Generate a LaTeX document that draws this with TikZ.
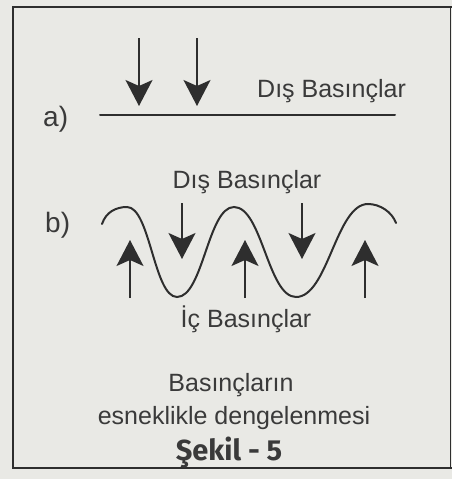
\documentclass[tikz,border=0pt]{standalone}
\usepackage{fontspec}
\setmainfont{Liberation Sans}
\newfontfamily\captionfont{Fira Sans}
\usetikzlibrary{arrows.meta}
\definecolor{paper}{HTML}{E9E9E5}
\definecolor{ink}{HTML}{2E2E2E}
\definecolor{txt}{HTML}{3A3A3A}
\tikzset{
  lbl/.style={text=txt, font=\fontsize{25}{29}\selectfont, inner sep=0pt, anchor=base},
  partlbl/.style={lbl, font=\fontsize{28}{32}\selectfont, anchor=base west},
  force/.style={draw=ink, line width=1.5pt, -{Stealth[length=26pt, width=27pt, inset=6pt]}},
  framestyle/.style={draw=ink, line width=2.2pt},
  surface/.style={draw=ink, line width=2pt, line cap=round}
}
\begin{document}
\begin{tikzpicture}[x=1pt,y=-1pt]
\fill[paper] (0,0) rectangle (452,479);
\useasboundingbox (0,0) rectangle (452,479);
% frame
\coordinate (ftl) at (13,7);
\coordinate (ftr) at (452,7);
\coordinate (fbl) at (13,468);
\coordinate (fbr) at (452,468);
\coordinate (rtop) at (450,7);
\coordinate (rbot) at (450,468);
\draw[framestyle] (ftr) -- (ftl) -- (fbl) -- (fbr);
\draw[draw=ink, line width=0.8pt] (rtop) -- (rbot);
% part a
\node[partlbl] (la) at (43,126) {a)};
\coordinate (sa1) at (100,115);
\coordinate (sa2) at (395,115);
\draw[surface] (sa1) -- (sa2);
\coordinate (a1s) at (139,38); \coordinate (a1e) at (139,106);
\coordinate (a2s) at (197,38); \coordinate (a2e) at (197,106);
\draw[force] (a1s) -- (a1e);
\draw[force] (a2s) -- (a2e);
\node[lbl, anchor=base west] (dba) at (257,97) {Dış Basınçlar};
% part b
\node[partlbl] (lb) at (45,232) {b)};
\node[lbl] (dbb) at (247,188) {Dış Basınçlar};
\coordinate (w0) at (102,224);
\coordinate (c1) at (127,207);
\coordinate (t1) at (177,297);
\coordinate (c2) at (234,207);
\coordinate (t2) at (296,297);
\coordinate (c3) at (368,204);
\coordinate (w1) at (396,223);
\draw[surface] (w0) .. controls (106,212) and (116,207) .. (c1)
  .. controls (150,207) and (154,297) .. (t1)
  .. controls (203,297) and (208,207) .. (c2)
  .. controls (262,207) and (268,297) .. (t2)
  .. controls (328,297) and (336,204) .. (c3)
  .. controls (380,204) and (392,212) .. (w1);
\coordinate (u1s) at (130,298); \coordinate (u1e) at (130,240);
\coordinate (u2s) at (245,298); \coordinate (u2e) at (245,240);
\coordinate (u3s) at (365,298); \coordinate (u3e) at (365,240);
\draw[force] (u1s) -- (u1e);
\draw[force] (u2s) -- (u2e);
\draw[force] (u3s) -- (u3e);
\coordinate (d1s) at (182,203); \coordinate (d1e) at (182,259);
\coordinate (d2s) at (302,203); \coordinate (d2e) at (302,259);
\draw[force] (d1s) -- (d1e);
\draw[force] (d2s) -- (d2e);
\node[lbl] (ib) at (246,327) {İç Basınçlar};
% caption
\node[lbl] (cap1) at (231,391) {Basınçların};
\node[lbl] (cap2) at (234,424) {esneklikle dengelenmesi};
\node[lbl, font=\captionfont\bfseries\fontsize{29}{33}\selectfont] (fig) at (229,460) {Şekil - 5};
\end{tikzpicture}
\end{document}
